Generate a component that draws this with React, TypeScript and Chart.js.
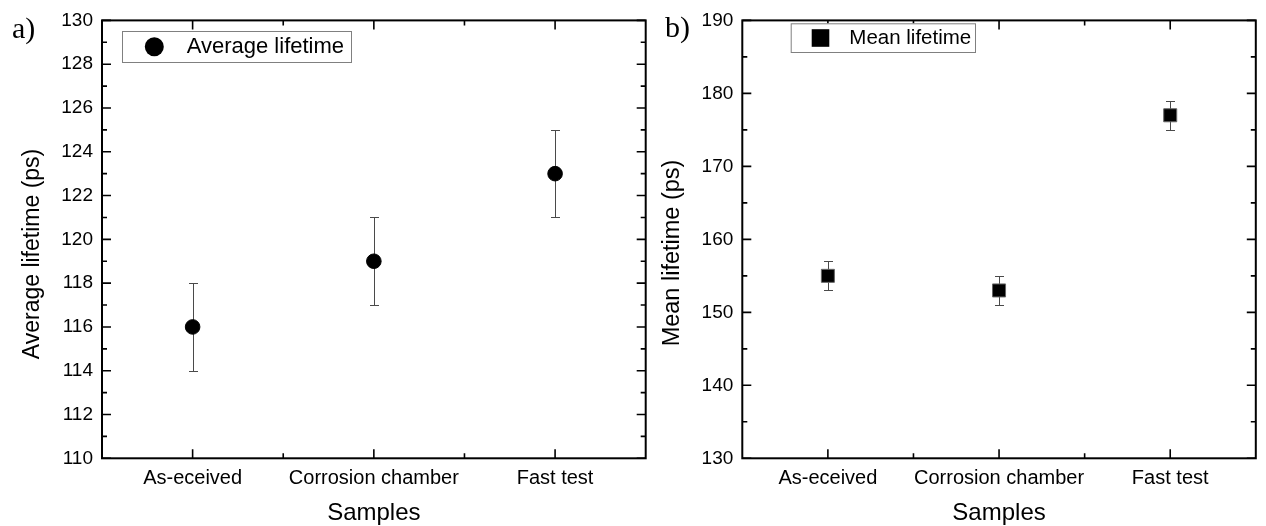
import { useEffect, useRef } from 'react';
import { Chart, registerables } from 'chart.js';

Chart.register(...registerables);

// ---------- data ----------
const categories = ['As-eceived', 'Corrosion chamber', 'Fast test'];
const averageLifetime = [116, 119, 123];
const averageError = [2, 2, 2];
const meanLifetime = [155, 153, 177];
const meanError = [2, 2, 2];
const leftYRange = [110, 130];
const leftYStep = 2;
const rightYRange = [130, 190];
const rightYStep = 10;

const SANS = "'Liberation Sans', Arial, sans-serif";
const SERIF = "'Liberation Serif', 'Times New Roman', serif";

const panelPlugin = {
  id: 'panel',
  beforeDatasetsDraw(chart: any, _a: any, opts: any) {
    const ctx = chart.ctx;
    const ds = chart.data.datasets[0];
    const meta = chart.getDatasetMeta(0);
    const y = chart.scales.y;
    ctx.save();
    ctx.strokeStyle = '#4a4a4a';
    ctx.lineWidth = 1;
    meta.data.forEach((pt: any, i: number) => {
      const v = ds.data[i].y;
      const e = opts.errors[i];
      const yt = Math.round(y.getPixelForValue(v + e)) + 0.5;
      const yb = Math.round(y.getPixelForValue(v - e)) + 0.5;
      const x = Math.round(pt.x) + 0.5;
      ctx.beginPath();
      ctx.moveTo(x, yt);
      ctx.lineTo(x, yb);
      ctx.moveTo(x - 4.5, yt);
      ctx.lineTo(x + 4.5, yt);
      ctx.moveTo(x - 4.5, yb);
      ctx.lineTo(x + 4.5, yb);
      ctx.stroke();
    });
    ctx.restore();
  },
  afterDatasetsDraw(chart: any, _a: any, opts: any) {
    const ctx = chart.ctx;
    const { left, right, top, bottom } = chart.chartArea;
    const xs = chart.scales.x;
    const ys = chart.scales.y;
    ctx.save();
    // frame
    ctx.strokeStyle = '#000';
    ctx.lineWidth = 2;
    ctx.strokeRect(left, top, right - left, bottom - top);
    // ticks
    ctx.lineWidth = 1.6;
    ctx.beginPath();
    const half = opts.step / 2;
    for (let v = ys.min; v <= ys.max + 1e-9; v += half) {
      const major = Math.abs((v - ys.min) / opts.step - Math.round((v - ys.min) / opts.step)) < 1e-6;
      const len = major ? 9 : 5;
      const py = ys.getPixelForValue(v);
      ctx.moveTo(left, py);
      ctx.lineTo(left + len, py);
      ctx.moveTo(right, py);
      ctx.lineTo(right - len, py);
    }
    for (let i = 0; i < categories.length; i++) {
      const vals = [i + 1];
      if (i < categories.length - 1) vals.push(i + 1.5);
      vals.forEach((v) => {
        const major = Number.isInteger(v);
        const len = major ? 9 : 5;
        const px = xs.getPixelForValue(v);
        ctx.moveTo(px, bottom);
        ctx.lineTo(px, bottom - len);
        ctx.moveTo(px, top);
        ctx.lineTo(px, top + len);
      });
    }
    ctx.stroke();

    // legend
    const lg = opts.legend;
    ctx.lineWidth = 1;
    ctx.strokeStyle = '#808080';
    ctx.fillStyle = '#fff';
    ctx.fillRect(lg.x, lg.y, lg.w, lg.h);
    ctx.strokeRect(lg.x + 0.5, lg.y + 0.5, lg.w, lg.h);
    ctx.fillStyle = '#000';
    if (lg.marker === 'circle') {
      ctx.beginPath();
      ctx.arc(lg.mx, lg.my, lg.ms, 0, Math.PI * 2);
      ctx.fill();
    } else {
      ctx.fillRect(lg.mx - lg.ms, lg.my - lg.ms, lg.ms * 2, lg.ms * 2);
    }
    ctx.font = `${lg.font}px ${SANS}`;
    ctx.textAlign = 'left';
    ctx.textBaseline = 'middle';
    ctx.fillText(chart.data.datasets[0].label, lg.tx, lg.ty);

    // panel tag
    ctx.font = `${opts.tag.font}px ${SERIF}`;
    ctx.textBaseline = 'alphabetic';
    ctx.fillText(opts.tag.text, opts.tag.x, opts.tag.y);

    // x title
    ctx.font = `24px ${SANS}`;
    ctx.textAlign = 'center';
    ctx.fillText('Samples', (left + right) / 2, 519.5);

    // y title
    ctx.translate(opts.yTitle.x, opts.yTitle.y);
    ctx.rotate(-Math.PI / 2);
    ctx.font = `${opts.yTitle.font}px ${SANS}`;
    ctx.textAlign = 'center';
    ctx.textBaseline = 'middle';
    ctx.fillText(opts.yTitle.text, 0, 0);
    ctx.restore();
  },
};

function buildConfig(p: any): any {
  return {
    type: 'scatter',
    data: {
      datasets: [
        {
          label: p.label,
          data: p.values.map((v: number, i: number) => ({ x: i + 1, y: v })),
          pointStyle: p.pointStyle,
          pointRadius: p.radius,
          pointHoverRadius: p.radius,
          backgroundColor: '#000',
          borderColor: p.pointBorder,
          borderWidth: 1,
          showLine: false,
        },
      ],
    },
    options: {
      responsive: false,
      animation: false,
      events: [],
      layout: { padding: { left: 0, right: p.padRight, top: 19.3, bottom: 0 } },
      plugins: {
        legend: { display: false },
        tooltip: { enabled: false },
        panel: {
          errors: p.errors,
          step: p.step,
          legend: p.legend,
          tag: p.tag,
          yTitle: p.yTitle,
        },
      },
      scales: {
        x: {
          type: 'linear',
          min: 0.5,
          max: categories.length + 0.5,
          grid: { display: false, drawTicks: false },
          border: { display: false },
          afterBuildTicks: (s: any) => {
            s.ticks = categories.map((_c, i) => ({ value: i + 1 }));
          },
          afterFit: (s: any) => {
            s.height = 526 - 458.3;
          },
          ticks: {
            autoSkip: false,
            maxRotation: 0,
            padding: 8,
            color: '#000',
            font: { size: 20, family: SANS },
            callback: (v: number) => categories[Math.round(v) - 1] ?? '',
          },
        },
        y: {
          type: 'linear',
          min: p.yMin,
          max: p.yMax,
          grid: { display: false, drawTicks: false },
          border: { display: false },
          afterFit: (s: any) => {
            s.width = p.plotLeft;
          },
          ticks: {
            stepSize: p.step,
            padding: 9,
            color: '#000',
            font: { size: 19, family: SANS },
          },
        },
      },
    },
    plugins: [panelPlugin],
  };
}

export default function App() {
  const leftRef = useRef<HTMLCanvasElement>(null);
  const rightRef = useRef<HTMLCanvasElement>(null);

  useEffect(() => {
    const left = new Chart(
      leftRef.current as HTMLCanvasElement,
      buildConfig({
        label: 'Average lifetime',
        values: averageLifetime,
        errors: averageError,
        yMin: leftYRange[0],
        yMax: leftYRange[1],
        step: leftYStep,
        pointStyle: 'circle',
        radius: 7.3,
        pointBorder: '#000',
        plotLeft: 102,
        padRight: 655 - 645.7,
        legend: { x: 122, y: 31, w: 229, h: 31, marker: 'circle', mx: 154.3, my: 46.7, ms: 9.5, tx: 186.7, ty: 46.8, font: 22 },
        tag: { text: 'a)', x: 12, y: 37.5, font: 30 },
        yTitle: { text: 'Average lifetime (ps)', x: 33, y: 254, font: 23 },
      })
    );
    const right = new Chart(
      rightRef.current as HTMLCanvasElement,
      buildConfig({
        label: 'Mean lifetime',
        values: meanLifetime,
        errors: meanError,
        yMin: rightYRange[0],
        yMax: rightYRange[1],
        step: rightYStep,
        pointStyle: 'rect',
        radius: 9.2,
        pointBorder: '#666',
        plotLeft: 87.3,
        padRight: 611 - 609.7,
        legend: { x: 135.7, y: 23.3, w: 184.3, h: 28.7, marker: 'rect', mx: 165.5, my: 38, ms: 8.8, tx: 194.3, ty: 38.6, font: 20.5 },
        tag: { text: 'b)', x: 10, y: 37, font: 30 },
        yTitle: { text: 'Mean lifetime (ps)', x: 18, y: 253, font: 23.5 },
      })
    );
    return () => {
      left.destroy();
      right.destroy();
    };
  }, []);

  return (
    <div style={{ position: 'fixed', left: 0, top: 0, width: 1266, height: 526, background: '#fff' }}>
      <canvas ref={leftRef} width={655} height={526} style={{ position: 'absolute', left: 0, top: 0, display: 'block' }} />
      <canvas ref={rightRef} width={611} height={526} style={{ position: 'absolute', left: 655, top: 0, display: 'block' }} />
    </div>
  );
}
